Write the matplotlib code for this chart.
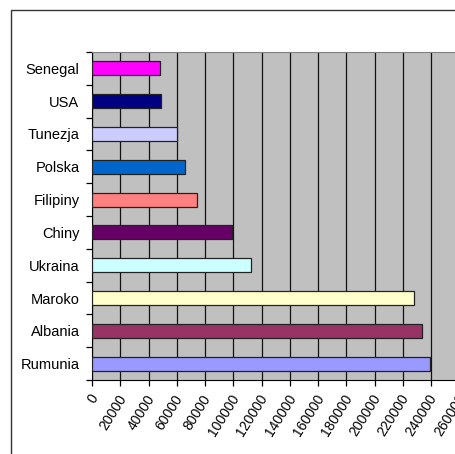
import numpy as np
import matplotlib.pyplot as plt
import matplotlib.transforms as mtransforms
from matplotlib.patches import Rectangle

# Dane (od dołu do góry)
kraje = ['Rumunia', 'Albania', 'Maroko', 'Ukraina', 'Chiny',
         'Filipiny', 'Polska', 'Tunezja', 'USA', 'Senegal']
wartosci = [239300, 233600, 227700, 112300, 99300,
            74000, 66000, 60000, 49000, 48200]
kolory = ['#9999FF', '#993366', '#FFFFCC', '#CCFFFF', '#660066',
          '#FF8080', '#0066CC', '#CCCCFF', '#000080', '#FF00FF']
xticks = np.arange(0, 260001, 20000)
xlabels = ['0'] + [str(v) for v in xticks[1:]]

plt.rcParams['font.family'] = ['Liberation Sans', 'DejaVu Sans']

fig = plt.figure(figsize=(4.56, 4.54), dpi=100)
fig.patch.set_facecolor('white')

# ramka wykresu
fig.patches.append(Rectangle((11/456, -0.1), 1.2, 1 - 10/454 + 0.1,
                             transform=fig.transFigure, fill=False,
                             edgecolor='#333333', linewidth=1.0))

ax = fig.add_axes([92/456, 74/454, 367.3/456, 328/454])
ax.set_facecolor('#C0C0C0')

y = np.arange(len(kraje))
ax.barh(y, wartosci, height=0.43, color=kolory, edgecolor='#222222',
        linewidth=0.9, zorder=3)

ax.set_xlim(0, 260000)
ax.set_ylim(-0.5, len(kraje) - 0.5)

ax.set_xticks(xticks)
ax.set_xticklabels([])
# etykiety osi x pod kątem, jak w Excelu
przes = mtransforms.ScaledTranslation(-3/100, -12/100, fig.dpi_scale_trans)
trans = mtransforms.blended_transform_factory(ax.transData, ax.transAxes) + przes
for v, lab in zip(xticks, xlabels):
    ax.text(v, 0, lab, transform=trans, rotation=58, ha='right', va='top',
            rotation_mode='anchor', fontsize=10, clip_on=False)
ax.xaxis.grid(True, color='#111111', linewidth=0.9, zorder=1)
ax.set_axisbelow(True)

ax.set_yticks(y)
ax.set_yticklabels(kraje, fontsize=10.5)
ax.set_yticks(np.arange(-0.5, len(kraje), 1), minor=True)
ax.tick_params(axis='y', which='major', length=0, pad=9)
ax.tick_params(axis='y', which='minor', length=4, width=0.9, color='black')
ax.tick_params(axis='x', length=4, width=0.9, pad=2)

ax.spines['left'].set_color('black')
ax.spines['bottom'].set_color('black')
ax.spines['top'].set_color('#808080')
ax.spines['right'].set_visible(False)

fig.savefig('out.png', dpi=100)
